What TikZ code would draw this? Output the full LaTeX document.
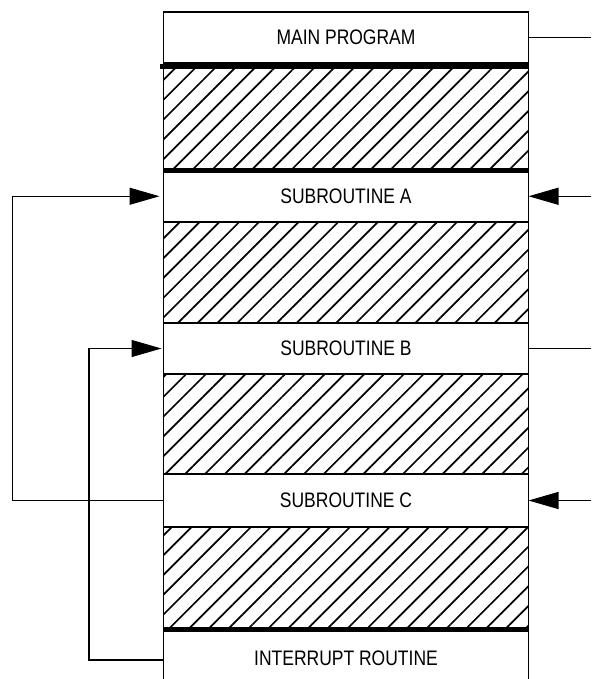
\documentclass[tikz,border=0pt]{standalone}
\usepackage{fontspec}
\setmainfont[FakeStretch=0.833]{Liberation Sans}
\usetikzlibrary{positioning,arrows.meta,patterns.meta}
\begin{document}
\begin{tikzpicture}[x=1pt,y=-1pt,
  seg/.style={draw, line width=1.3pt, inner sep=0pt, outer sep=0pt,
    minimum width=365pt, font=\fontsize{21}{24}\selectfont},
  hatchbox/.style={seg, pattern={Lines[angle=45,distance=14pt,line width=1.7pt]}},
  bar/.style={line width=5pt},
  wire/.style={line width=1.3pt},
  arr/.style={wire, -{Triangle[length=30pt,width=17pt]}}]
\useasboundingbox (0,0) rectangle (591,679);

% memory column
\node[seg, minimum height=51pt, anchor=north west] (main) at (163.5,12) {MAIN PROGRAM};
\node[hatchbox, minimum height=103.5pt, below=4pt of main] (h1) {};
\node[seg, minimum height=51.5pt, below=0pt of h1] (subA) {SUBROUTINE A};
\node[hatchbox, minimum height=101pt, below=0pt of subA] (h2) {};
\node[seg, minimum height=51pt, below=0pt of h2] (subB) {SUBROUTINE B};
\node[hatchbox, minimum height=100pt, below=0pt of subB] (h3) {};
\node[seg, minimum height=53pt, below=0pt of h3] (subC) {SUBROUTINE C};
\node[hatchbox, minimum height=102pt, below=0pt of subC] (h4) {};
\node[seg, draw=none, minimum height=62pt, below=0pt of h4] (intr) {\raisebox{4pt}{INTERRUPT ROUTINE}};
\coordinate (intrBL) at (intr.west |- 0,679);
\coordinate (intrBR) at (intr.east |- 0,679);
\draw[wire] (intr.north west) -- (intrBL);
\draw[wire] (intr.north east) -- (intrBR);

% heavy boundaries
\draw[bar] ([xshift=-4pt]h1.north west) -- (h1.north east);
\draw[bar] (h1.south west) -- (h1.south east);
\draw[bar] (h4.south west) -- (h4.south east);

% right-hand connectors
\coordinate (rMain) at (591,0 |- main.east);
\coordinate (rA) at (591,0 |- subA.east);
\coordinate (rB) at (591,0 |- subB.east);
\coordinate (rC) at (591,0 |- subC.east);
\draw[wire] (main.east) -- (rMain);
\draw[arr] (rA) -- (subA.east);
\draw[wire] (subB.east) -- (rB);
\draw[arr] (rC) -- (subC.east);

% left-hand returns
\coordinate (cornerC) at (12.5,0 |- subC.west);
\coordinate (cornerI) at (89,0 |- intr.west);
\draw[arr] (subC.west) -- (cornerC) |- ([xshift=-4pt]subA.west);
\draw[arr] (intr.west) -- (cornerI) |- ([xshift=-2pt]subB.west);
\end{tikzpicture}
\end{document}
